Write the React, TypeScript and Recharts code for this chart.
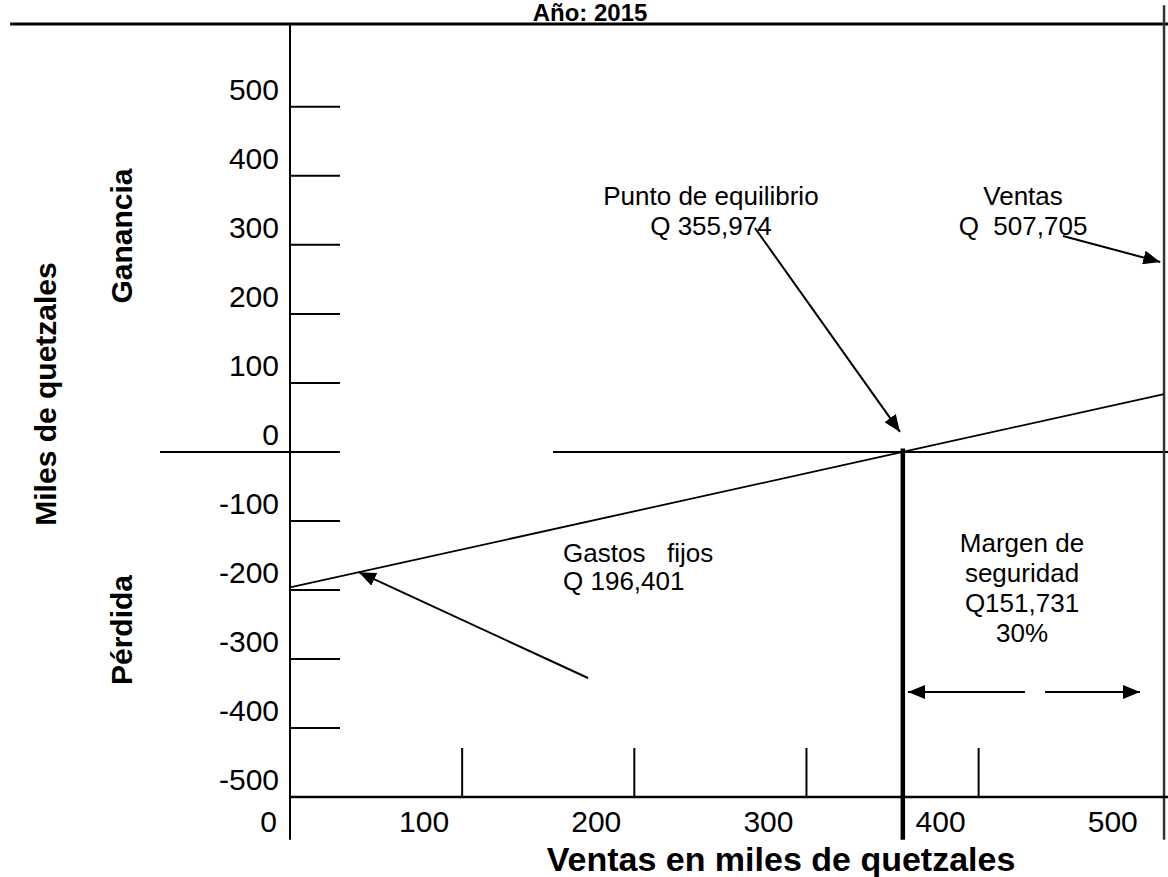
import React from 'react';
import { ComposedChart, Line, XAxis, YAxis, ReferenceLine, ReferenceDot } from 'recharts';

// Punto de equilibrio, año 2015 (miles de quetzales)
const ventas = [0, 355.974, 507.705];
const utilidad = [-196.401, 0, 83.7];

const xTicks = [0, 100, 200, 300, 400, 500];
const yTicks = [500, 400, 300, 200, 100, 0, -100, -200, -300, -400, -500];

const puntoEquilibrio = 355.974;
const ventasTotales = 507.705;
const gastosFijos = 196.401;
const margenSeguridad = 151.731;
const margenPct = 30;

const data = ventas.map((v, i) => ({ ventas: v, utilidad: utilidad[i] }));

const FONT = "'Liberation Sans', Arial, sans-serif";
const X_DOMAIN: [number, number] = [0, 510];
const Y_DOMAIN: [number, number] = [-500, 620];
const Y_LOW = -562; // las lineas verticales bajan un poco debajo del eje

const q = (v: number) => Math.round(v * 1000).toLocaleString('en-US');

const XTick = (props: any) => {
  const { x, y, payload } = props;
  const v = payload.value;
  return (
    <g>
      {v > 0 && v < 500 && <line x1={x} x2={x} y1={y - 49} y2={y} stroke="#000" strokeWidth={2} />}
      <text x={x - 13} y={y + 35} textAnchor="end" fontSize={30} fontFamily={FONT} fill="#000">
        {v}
      </text>
    </g>
  );
};

const YTick = (props: any) => {
  const { x, y, payload } = props;
  const v = payload.value;
  return (
    <g>
      {v !== 0 && v !== -500 && <line x1={x} x2={x + 50} y1={y} y2={y} stroke="#000" strokeWidth={2} />}
      <text x={x - 11} y={y - 7} textAnchor="end" fontSize={30} fontFamily={FONT} fill="#000">
        {v}
      </text>
    </g>
  );
};

const textShape = (lines: string[], anchor: 'middle' | 'start', gap = 30) => (p: any) => (
  <text
    x={p.cx}
    y={p.cy}
    textAnchor={anchor}
    fontSize={26}
    fontFamily={FONT}
    fill="#000"
    style={{ whiteSpace: 'pre' }}
  >
    {lines.map((l, i) => (
      <tspan key={i} x={p.cx} dy={i === 0 ? 0 : gap}>
        {l}
      </tspan>
    ))}
  </text>
);

const arrow = { stroke: '#000', strokeWidth: 2, markerEnd: 'url(#flecha)' };

export default function App() {
  return (
    <div style={{ position: 'absolute', left: 0, top: 0, width: 1168, height: 877, background: '#fff' }}>
      <ComposedChart width={1168} height={877} data={data} margin={{ top: 24, right: 0, bottom: 0, left: 0 }}>
        <defs>
          <marker
            id="flecha"
            viewBox="0 0 17 14"
            refX={17}
            refY={7}
            markerWidth={17}
            markerHeight={14}
            markerUnits="userSpaceOnUse"
            orient="auto"
          >
            <path d="M0,0 L17,7 L0,14 z" fill="#000" />
          </marker>
        </defs>

        <XAxis
          type="number"
          dataKey="ventas"
          domain={X_DOMAIN}
          ticks={xTicks}
          interval={0}
          height={80}
          tickSize={0}
          tickMargin={0}
          tickLine={false}
          axisLine={{ stroke: '#000', strokeWidth: 2.5 }}
          tick={XTick}
        />
        <YAxis
          type="number"
          domain={Y_DOMAIN}
          ticks={yTicks}
          interval={0}
          width={290}
          tickSize={0}
          tickMargin={0}
          tickLine={false}
          axisLine={false}
          tick={YTick}
        />

        {/* linea superior y eje vertical */}
        <ReferenceLine segment={[{ x: -162.6, y: 620 }, { x: 510, y: 620 }]} stroke="#000" strokeWidth={3} ifOverflow="visible" />
        <ReferenceLine segment={[{ x: 0, y: 620 }, { x: 0, y: Y_LOW }]} stroke="#000" strokeWidth={2} ifOverflow="visible" />

        {/* linea de cero */}
        <ReferenceLine segment={[{ x: -75.5, y: 0 }, { x: 29, y: 0 }]} stroke="#000" strokeWidth={2} ifOverflow="visible" />
        <ReferenceLine segment={[{ x: 152.8, y: 0 }, { x: 510, y: 0 }]} stroke="#000" strokeWidth={2} ifOverflow="visible" />

        {/* punto de equilibrio y ventas */}
        <ReferenceLine segment={[{ x: puntoEquilibrio, y: 5 }, { x: puntoEquilibrio, y: Y_LOW }]} stroke="#000" strokeWidth={4.5} ifOverflow="visible" />
        <ReferenceLine segment={[{ x: ventasTotales, y: 647 }, { x: ventasTotales, y: Y_LOW }]} stroke="#333" strokeWidth={2.5} ifOverflow="visible" />

        <Line
          type="linear"
          dataKey="utilidad"
          stroke="#000"
          strokeWidth={1.8}
          dot={false}
          activeDot={false}
          isAnimationActive={false}
        />

        {/* flechas */}
        <ReferenceLine segment={[{ x: 270.1, y: 324.4 }, { x: 354.3, y: 29 }]} {...arrow} ifOverflow="visible" />
        <ReferenceLine segment={[{ x: 449, y: 312.8 }, { x: 505.5, y: 275.2 }]} {...arrow} ifOverflow="visible" />
        <ReferenceLine segment={[{ x: 173.1, y: -327.6 }, { x: 40, y: -174.3 }]} {...arrow} ifOverflow="visible" />
        <ReferenceLine segment={[{ x: 426.9, y: -347.9 }, { x: puntoEquilibrio + 3, y: -347.9 }]} {...arrow} ifOverflow="visible" />
        <ReferenceLine segment={[{ x: 438.6, y: -347.9 }, { x: ventasTotales - 14, y: -347.9 }]} {...arrow} ifOverflow="visible" />

        {/* textos */}
        <ReferenceDot x={244.5} y={357.7} ifOverflow="visible" shape={textShape(['Punto de equilibrio', `Q ${q(puntoEquilibrio)}`], 'middle')} />
        <ReferenceDot x={425.8} y={357.7} ifOverflow="visible" shape={textShape(['Ventas', `Q  ${q(ventasTotales)}`], 'middle')} />
        <ReferenceDot x={158.6} y={-159.5} ifOverflow="visible" shape={textShape(['Gastos   fijos', `Q ${q(gastosFijos)}`], 'start', 28)} />
        <ReferenceDot
          x={425.2}
          y={-145}
          ifOverflow="visible"
          shape={textShape(['Margen de', 'seguridad', `Q${q(margenSeguridad)}`, `${margenPct}%`], 'middle')}
        />

        <text x={590} y={21} textAnchor="middle" fontSize={24} fontWeight="bold" fontFamily={FONT} fill="#000">
          Año: 2015
        </text>
        <text x={781} y={871} textAnchor="middle" fontSize={34} fontWeight="bold" fontFamily={FONT} fill="#000">
          Ventas en miles de quetzales
        </text>
        <text x={56} y={394} transform="rotate(-90 56 394)" textAnchor="middle" fontSize={30} fontWeight="bold" fontFamily={FONT} fill="#000">
          Miles de quetzales
        </text>
        <text x={132} y={236} transform="rotate(-90 132 236)" textAnchor="middle" fontSize={30} fontWeight="bold" fontFamily={FONT} fill="#000">
          Ganancia
        </text>
        <text x={132} y={630} transform="rotate(-90 132 630)" textAnchor="middle" fontSize={30} fontWeight="bold" fontFamily={FONT} fill="#000">
          Pérdida
        </text>
      </ComposedChart>
    </div>
  );
}
